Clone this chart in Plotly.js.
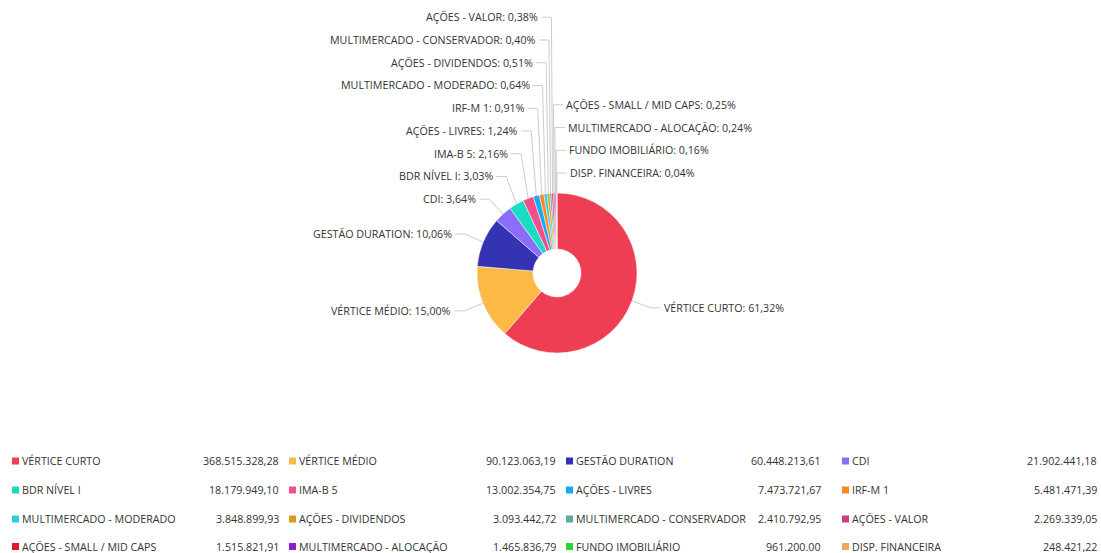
<!DOCTYPE html>
<html>
<head>
<meta charset="utf-8">
<script src="https://cdn.plot.ly/plotly-3.0.1.min.js"></script>
<style>html,body{margin:0;padding:0;background:#fff;}#chart{width:1101px;height:553px;}</style>
</head>
<body>
<div id="chart"></div>
<script>
// ---- data ----
const categories = [
  "VÉRTICE CURTO", "VÉRTICE MÉDIO", "GESTÃO DURATION", "CDI",
  "BDR NÍVEL I", "IMA-B 5", "AÇÕES - LIVRES", "IRF-M 1",
  "MULTIMERCADO - MODERADO", "AÇÕES - DIVIDENDOS", "MULTIMERCADO - CONSERVADOR", "AÇÕES - VALOR",
  "AÇÕES - SMALL / MID CAPS", "MULTIMERCADO - ALOCAÇÃO", "FUNDO IMOBILIÁRIO", "DISP. FINANCEIRA"
];
const values = [
  368515328.28, 90123063.19, 60448213.61, 21902441.18,
  18179949.10, 13002354.75, 7473721.67, 5481471.39,
  3848899.93, 3093442.72, 2410792.95, 2269339.05,
  1515821.91, 1465836.79, 961200.00, 248421.22
];
const valueLabels = [
  "368.515.328,28", "90.123.063,19", "60.448.213,61", "21.902.441,18",
  "18.179.949,10", "13.002.354,75", "7.473.721,67", "5.481.471,39",
  "3.848.899,93", "3.093.442,72", "2.410.792,95", "2.269.339,05",
  "1.515.821,91", "1.465.836,79", "961.200.00", "248.421,22"
];
const colors = [
  "#ee3e54", "#fdb946", "#3333b3", "#8b6dfb",
  "#1adcc3", "#f54c8a", "#17a9f2", "#f78a1e",
  "#2ecbe0", "#d99a1c", "#5fa89a", "#c83e7e",
  "#db1c2c", "#8e1bc8", "#2fd431", "#f0a76a"
];
// which side each slice label goes
const labelSide = ["R","L","L","L","L","L","L","L","L","L","L","L","R","R","R","R"];

// ---- layout constants (pixels) ----
const W = 1101, H = 553;
const CX = 557, CY = 273, R = 80;
const LABEL_R = R + 20, LABEL_GAP = 12, TICK = 10, LABEL_STEP = 22.75;
const FONT = "Open Sans, sans-serif";
const FSIZE = 10.7;
const TXT = "#333333";
const legendSquareX = [12, 289, 566, 842];
const legendValueEnd = [280, 557, 822, 1098];
const legendRowY = [461, 490, 519, 546.5];

const px = x => x / W;
const py = y => 1 - y / H;

const total = values.reduce((a, b) => a + b, 0);
const pctText = v => (v / total * 100).toFixed(2).replace('.', ',') + '%';

// slice mid angles (deg clockwise from 12 o'clock)
let cum = 0;
const mids = values.map(v => { const a = (cum + v / 2) / total * 360; cum += v; return a; });

const annotations = [];
const shapes = [];

// label placement with stacking
function placeSide(side) {
  const idx = [];
  values.forEach((v, i) => { if (labelSide[i] === side) idx.push(i); });
  const key = i => {
    const t = mids[i];
    return side === "L" ? -t : (t > 180 ? t - 360 : t);
  };
  idx.sort((a, b) => key(a) - key(b));
  let prevY = Infinity;
  for (let k = idx.length - 1; k >= 0; k--) {
    const i = idx[k];
    const th = mids[i] * Math.PI / 180;
    const natY = CY - LABEL_R * Math.cos(th);
    const y = Math.min(natY, prevY - LABEL_STEP);
    prevY = y;
    const ex = CX + R * Math.sin(th), ey = CY - R * Math.cos(th);
    const elx = CX + LABEL_R * Math.sin(th);
    const dir = side === "L" ? -1 : 1;
    const tickEnd = elx + dir * TICK;
    shapes.push({
      type: "path", xref: "paper", yref: "paper",
      path: `M ${px(ex)} ${py(ey)} L ${px(elx)} ${py(y)} L ${px(tickEnd)} ${py(y)}`,
      line: { color: "#cccccc", width: 1 }
    });
    annotations.push({
      xref: "paper", yref: "paper", x: px(elx + dir * LABEL_GAP), y: py(y),
      xanchor: side === "L" ? "right" : "left", yanchor: "middle",
      text: categories[i] + ": " + pctText(values[i]), showarrow: false,
      font: { family: FONT, size: FSIZE, color: TXT }, borderpad: 0
    });
  }
}
placeSide("L");
placeSide("R");

// custom legend
categories.forEach((c, i) => {
  const col = i % 4, row = Math.floor(i / 4);
  const sx = legendSquareX[col], y = legendRowY[row];
  shapes.push({
    type: "rect", xref: "paper", yref: "paper",
    x0: px(sx), x1: px(sx + 7), y0: py(y + 3.5), y1: py(y - 3.5),
    fillcolor: colors[i], line: { width: 0 }
  });
  annotations.push({
    xref: "paper", yref: "paper", x: px(sx + 9), y: py(y),
    xanchor: "left", yanchor: "middle", text: c, showarrow: false,
    font: { family: FONT, size: FSIZE, color: TXT }, borderpad: 0
  });
  annotations.push({
    xref: "paper", yref: "paper", x: px(legendValueEnd[col]), y: py(y),
    xanchor: "right", yanchor: "middle", text: valueLabels[i], showarrow: false,
    font: { family: FONT, size: FSIZE, color: TXT }, borderpad: 0
  });
});

const trace = {
  type: "pie",
  labels: categories,
  values: values,
  marker: { colors: colors, line: { color: "#ffffff", width: 0.5 } },
  hole: 0.3,
  sort: false,
  direction: "clockwise",
  rotation: 0,
  textinfo: "none",
  hoverinfo: "label+percent",
  domain: { x: [px(CX - R), px(CX + R)], y: [py(CY + R), py(CY - R)] }
};

const layout = {
  width: W, height: H,
  margin: { l: 0, r: 0, t: 0, b: 0 },
  paper_bgcolor: "#ffffff",
  showlegend: false,
  font: { family: FONT, size: FSIZE, color: TXT },
  annotations: annotations,
  shapes: shapes
};

Plotly.newPlot("chart", [trace], layout, { displayModeBar: false, staticPlot: true });
</script>
</body>
</html>
